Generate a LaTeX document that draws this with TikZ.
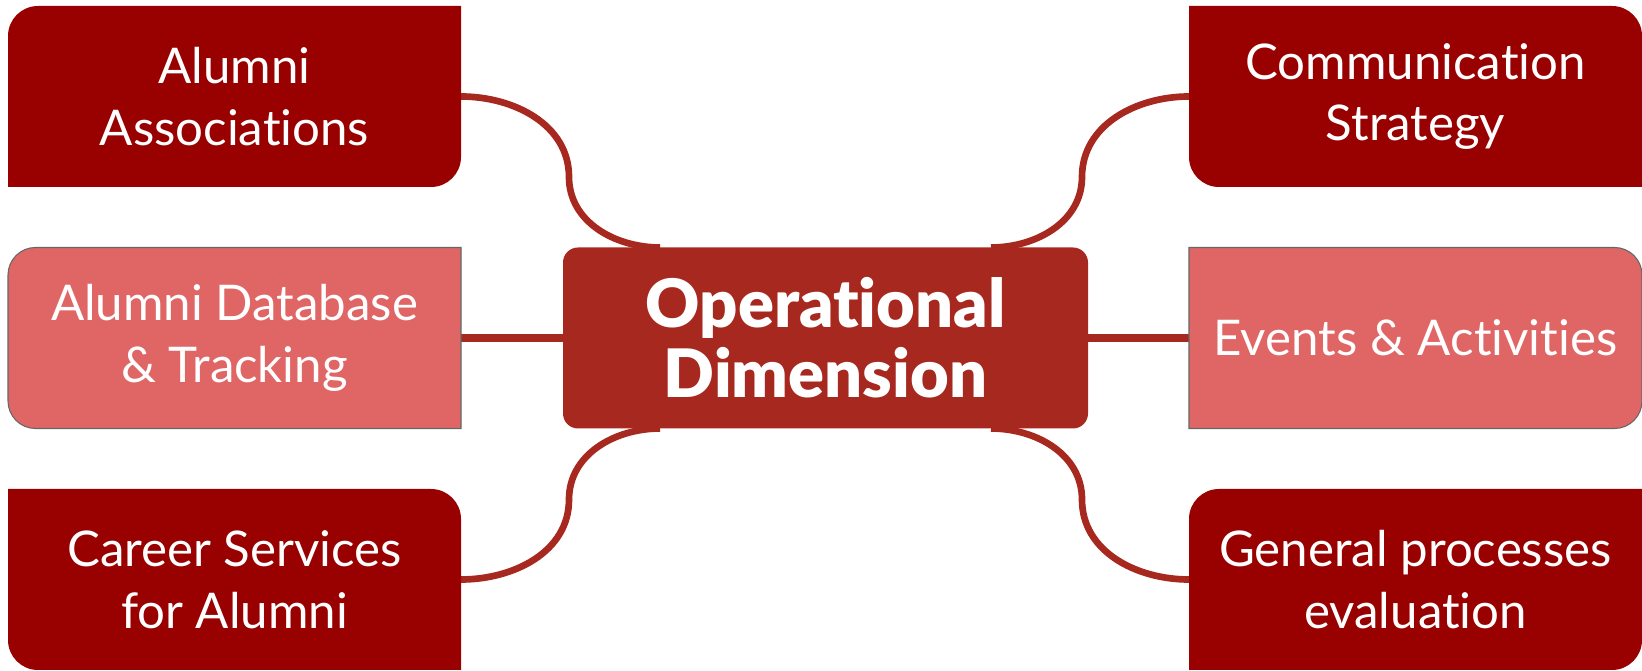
\documentclass[tikz,border=0pt]{standalone}
\usepackage{fontspec}
\setmainfont{Lato}[Ligatures=NoCommon]
\newfontfamily\hubfont{Lato Black}[Ligatures=NoCommon]
\usetikzlibrary{calc}
\pgfdeclarelayer{background}
\pgfsetlayers{background,main}
\definecolor{leafdark}{HTML}{990000}
\definecolor{leaflight}{HTML}{E06666}
\definecolor{hubred}{HTML}{A6281F}
\definecolor{edgegray}{HTML}{666666}
\tikzset{
  leaf/.style={minimum width=9.06cm, minimum height=3.62cm, inner sep=0pt, outer sep=0pt,
    text=white, align=center, font=\fontsize{28}{35}\selectfont},
  hub/.style={minimum width=10.5cm, minimum height=3.62cm, inner sep=0pt, outer sep=0pt,
    text=white, align=center, font=\hubfont\fontsize{38}{40}\selectfont},
  link/.style={draw=hubred, line width=3.8pt},
  straightlink/.style={link, line width=4.2pt}
}
\newcommand{\mmleaf}[3] {\node at (#1) (#2) [leaf] {#3};}
\newcommand{\mmhub}[3] {\node at (#1) (#2) [hub] {#3};}
\newcommand{\mmcurve}[7] {\draw [link] (#1) to[out=#4, in=#5] (#2) to[out=#6, in=#7] (#3);}
\newcommand{\mmshape}[6] {\path [#6] ([yshift=-#2]#1.north west) arc [start angle=180, end angle=90, radius=#2]
  -- ([xshift=-#3]#1.north east) arc [start angle=90, end angle=0, radius=#3]
  -- ([yshift=#4]#1.south east) arc [start angle=0, end angle=-90, radius=#4]
  -- ([xshift=#5]#1.south west) arc [start angle=270, end angle=180, radius=#5] -- cycle;}

\begin{document}
\begin{tikzpicture}
\useasboundingbox (0,0) rectangle (32.84,13.42);
\mmhub {16.51,6.66} {op} {Operational\\Dimension};
\mmleaf {4.69,11.49} {aa} {Alumni\\Associations};
\mmleaf {4.69,6.66} {db} {Alumni Database\\\& Tracking};
\mmleaf {4.69,1.83} {cs} {Career Services\\for Alumni};
\mmleaf {28.31,11.49} {cm} {Communication\\Strategy};
\mmleaf {28.31,6.66} {ev} {Events \& Activities};
\mmleaf {28.31,1.83} {gp} {General processes\\evaluation};

\coordinate (aa-bend) at (11.38,9.88);
\coordinate (cm-bend) at (21.64,9.88);
\coordinate (cs-bend) at (11.38,3.43);
\coordinate (gp-bend) at (21.64,3.43);
\coordinate (aa-end) at ([xshift=-3.31cm]op.north);
\coordinate (cm-end) at ([xshift=3.31cm]op.north);
\coordinate (cs-end) at ([xshift=-3.31cm]op.south);
\coordinate (gp-end) at ([xshift=3.31cm]op.south);

\begin{pgfonlayer}{background}
\mmcurve {aa}{aa-bend}{aa-end}{0}{90}{270}{180};
\mmcurve {cm}{cm-bend}{cm-end}{180}{90}{270}{0};
\mmcurve {cs}{cs-bend}{cs-end}{0}{270}{90}{180};
\mmcurve {gp}{gp-bend}{gp-end}{180}{270}{90}{0};
\draw [straightlink] (db) -- (op);
\draw [straightlink] (op) -- (ev);

\mmshape {op}{0.3cm}{0.3cm}{0.3cm}{0.3cm}{fill=hubred};
\mmshape {aa}{0.6cm}{0cm}{0.6cm}{0cm}{fill=leafdark};
\mmshape {db}{0.55cm}{0cm}{0cm}{0.55cm}{fill=leaflight, draw=edgegray, line width=0.6pt};
\mmshape {cs}{0cm}{0.6cm}{0cm}{0.6cm}{fill=leafdark};
\mmshape {cm}{0cm}{0.6cm}{0cm}{0.6cm}{fill=leafdark};
\mmshape {ev}{0cm}{0.55cm}{0.55cm}{0cm}{fill=leaflight, draw=edgegray, line width=0.6pt};
\mmshape {gp}{0.6cm}{0cm}{0.6cm}{0cm}{fill=leafdark};
\end{pgfonlayer}
\end{tikzpicture}
\end{document}
